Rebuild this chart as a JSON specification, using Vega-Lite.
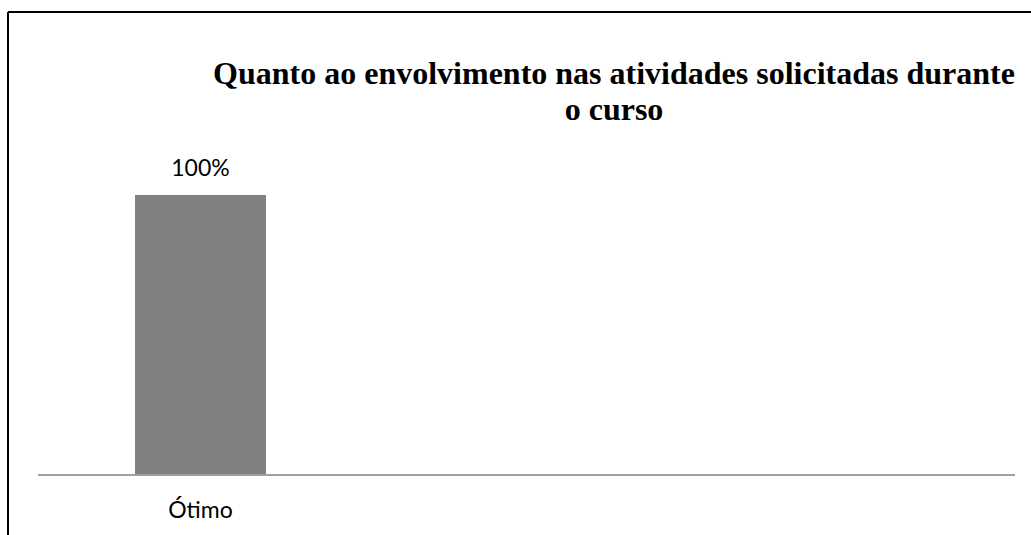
{
  "$schema": "https://vega.github.io/schema/vega-lite/v6.json",
  "width": 1023,
  "height": 523,
  "autosize": {"type": "none"},
  "padding": {"left": 8, "top": 12, "right": 0, "bottom": 0},
  "background": "white",
  "config": {
    "view": {"stroke": "black", "strokeWidth": 2, "strokeDash": [1023, 1546, 523, 0]}
  },
  "title": {
    "text": ["Quanto ao envolvimento nas atividades solicitadas durante", "o curso"],
    "font": "Liberation Serif",
    "fontSize": 32,
    "fontWeight": "bold",
    "color": "black",
    "anchor": "middle",
    "frame": "group",
    "dx": 94.5,
    "offset": -115,
    "lineHeight": 36
  },
  "data": {"values": [{"categoria": "Ótimo", "percentual": 1}]},
  "layer": [
    {
      "encoding": {
        "x": {
          "field": "categoria",
          "type": "nominal",
          "scale": {"paddingInner": 0, "paddingOuter": 1, "align": 0.03226},
          "axis": {
            "orient": "bottom",
            "offset": -60,
            "domain": false,
            "ticks": false,
            "grid": false,
            "title": null,
            "labelAngle": 0,
            "labelFont": "Lato",
            "labelFontSize": 23,
            "labelColor": "black",
            "labelPadding": 24
          }
        },
        "y": {
          "field": "percentual",
          "type": "quantitative",
          "scale": {"domain": [-0.2143, 1.6536], "nice": false, "zero": false},
          "axis": null
        }
      },
      "layer": [
        {"mark": {"type": "bar", "color": "#808080", "width": {"band": 0.3842}}},
        {
          "mark": {"type": "text", "font": "Lato", "fontSize": 23, "dy": -19, "baseline": "alphabetic", "color": "black"},
          "encoding": {"text": {"field": "percentual", "format": ".0%"}}
        }
      ]
    },
    {
      "mark": {"type": "rule", "color": "#a0a0a0", "strokeWidth": 2},
      "encoding": {
        "y": {"datum": 0, "type": "quantitative"},
        "x": {"datum": 0, "type": "quantitative", "scale": {"domain": [-0.03071, 1.01638], "nice": false, "zero": false}, "axis": null},
        "x2": {"datum": 1}
      }
    }
  ],
  "resolve": {"scale": {"x": "independent"}}
}
